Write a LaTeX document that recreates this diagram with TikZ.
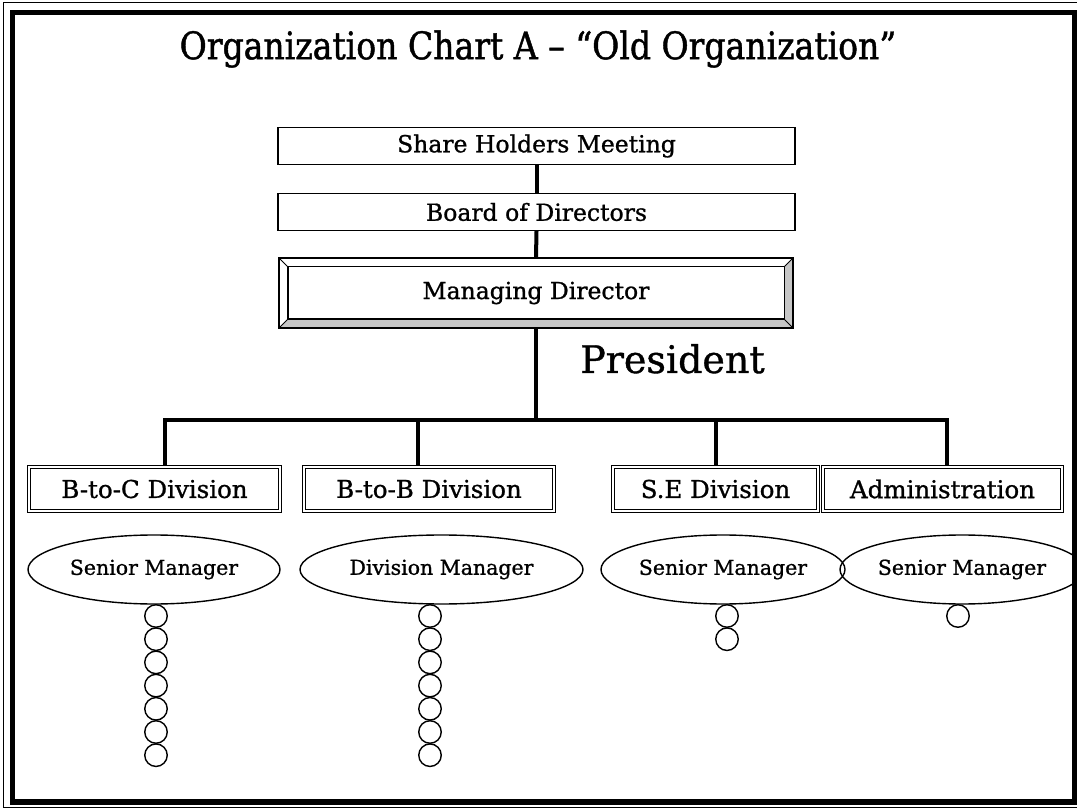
\documentclass[tikz,border=0pt]{standalone}
\usepackage{fontspec}
\setmainfont[FakeBold=1.0]{DejaVu Serif}
\newfontfamily\titlefont[FakeStretch=0.87,FakeBold=1.2]{DejaVu Serif}
\usetikzlibrary{shapes.geometric}
\begin{document}
\begin{tikzpicture}[x=1pt,y=-1pt,
  bar/.style={line width=4pt},
  plainbox/.style={draw, line width=1.4pt, minimum width=517pt, minimum height=37pt,
    inner sep=0pt, font=\fontsize{23.5}{28}\selectfont},
  divbox/.style={draw, line width=1.1pt, double, double distance=2.6pt,
    minimum height=44pt, inner sep=0pt, font=\fontsize{24.5}{29}\selectfont},
  mgr/.style={ellipse, draw, line width=1.4pt, inner sep=0pt,
    minimum height=69pt, font=\fontsize{20.5}{24}\selectfont},
  staff/.style={circle, draw, line width=1.4pt, minimum size=22.5pt, inner sep=0pt}]
\useasboundingbox (0,0) rectangle (1077,810);

% page frame
\draw[line width=1pt] (3,3) rectangle (1090,807);
\draw[line width=5.5pt] (12.5,12.5) rectangle (1075,802);

% title
\node (title) at (538,49) {\titlefont\fontsize{38}{44}\selectfont Organization Chart A – “Old Organization”};

% top of the hierarchy
\node[plainbox] (sh) at (536.5,146) {Share Holders Meeting};
\node[plainbox] (bd) at (536.5,212) {Board of Directors};

% Managing Director: bevelled frame
\node[minimum width=514pt, minimum height=70pt, inner sep=0pt,
      font=\fontsize{23.5}{28}\selectfont] (md) at (536,293) {Managing Director};
\fill[gray!45] (md.south west) -- (md.south east) -- (md.north east)
  -- ([shift={(-9,9)}]md.north east) -- ([shift={(-9,-9)}]md.south east)
  -- ([shift={(9,-9)}]md.south west) -- cycle;
\draw[line width=0.8pt] (md.north west) -- ++(9,9)
  (md.north east) -- ++(-9,9) (md.south west) -- ++(9,-9) (md.south east) -- ++(-9,-9);
\draw[line width=1.4pt] ([shift={(9,9)}]md.north west) rectangle ([shift={(-9,-9)}]md.south east);
\draw[line width=1.8pt] (md.north west) rectangle (md.south east);

\node[anchor=base west, inner sep=0pt] (pres) at (580,373) {\fontsize{38}{44}\selectfont President};

% divisions
\node[divbox, minimum width=251pt] (btc) at (154.5,489) {B-to-C Division};
\node[divbox, minimum width=250pt] (btb) at (429,489) {B-to-B Division};
\node[divbox, minimum width=205pt] (se) at (715.5,489) {S.E Division};
\node[divbox, minimum width=239pt] (adm) at (942.5,489) {Administration};

% connectors
\coordinate (bus) at (536,420);
\draw[bar] (sh.south) -- (bd.north);
\draw[bar] (bd.south) -- (md.north);
\draw[bar] (md.south) -- (bus);
\draw[bar, line join=miter] (bus) -| ([xshift=10.5pt]btc.north);
\draw[bar] (bus -| btb.north) ++(-11,0) coordinate (db) -- (db |- btb.north);
\draw[bar] (bus -| se.north) -- (se.north);
\draw[bar, line join=miter] (bus) -| ([xshift=4.5pt]adm.north);

% managers
\node[mgr, minimum width=252pt] (m1) at (154,569.5) {Senior Manager};
\node[mgr, minimum width=283pt] (m2) at (441.5,569.5) {Division Manager};
\node[mgr, minimum width=244pt] (m3) at (723,569.5) {Senior Manager};
\node[mgr, minimum width=244pt] (m4) at (962,569.5) {Senior Manager};

% staff
\foreach \i in {1,...,7}{
  \node[staff] (s1-\i) at (156,{616+23.2*(\i-1)}) {};
  \node[staff] (s2-\i) at (430,{616+23.2*(\i-1)}) {};
}
\foreach \i in {1,2}{
  \node[staff] (s3-\i) at (727,{616+23.2*(\i-1)}) {};
}
\node[staff] (s4-1) at (958,616) {};
\end{tikzpicture}
\end{document}
